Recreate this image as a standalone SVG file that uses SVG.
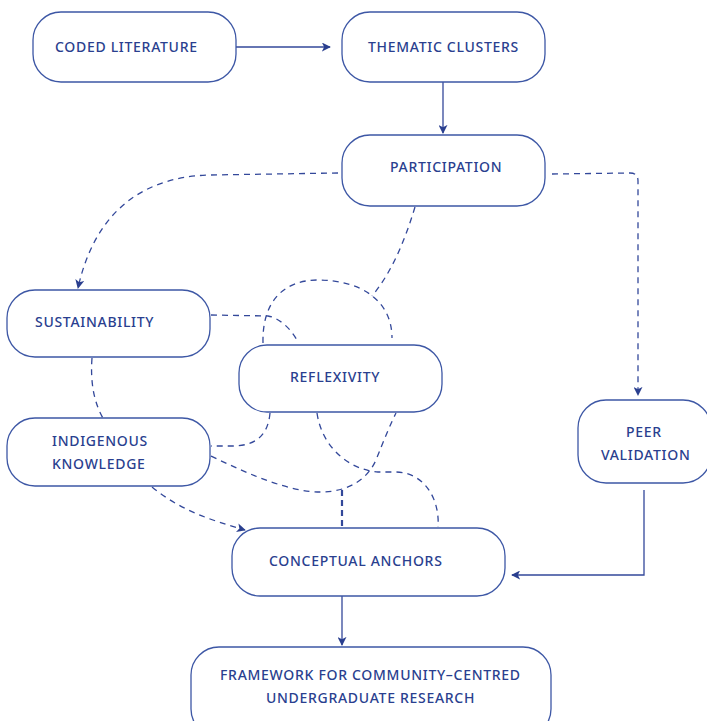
<svg xmlns="http://www.w3.org/2000/svg" width="707" height="721" viewBox="0 0 707 721">
<defs>
<style>
.n rect{fill:#fff;stroke:#3d57a5;stroke-width:1.3}
.n text{font-family:"Noto Sans","Open Sans",sans-serif;font-size:14px;font-weight:500;fill:#2a3f8f;letter-spacing:0.7px}
.e path{fill:none;stroke:#33489a;stroke-width:1.3}
.e .d{stroke-dasharray:6 5}
</style>
<marker id="a" viewBox="0 0 10 10" refX="9" refY="5" markerWidth="9" markerHeight="9" orient="auto" markerUnits="userSpaceOnUse">
<path d="M0,0 L10,5 L0,10 L2.5,5 z" fill="#2a3f8f"/>
</marker>
</defs>
<rect width="707" height="721" fill="#fff"/>
<g class="e">
<path d="M236,47 L330,47" marker-end="url(#a)"/>
<path d="M443,82 L443,133" marker-end="url(#a)"/>
<path class="d" d="M338,173 L210,175 C130,177 92,225 78,288" marker-end="url(#a)"/>
<path class="d" d="M552,174 L630,173 Q638,173 638,181 L638,395" marker-end="url(#a)"/>
<path d="M644,490 L644,575 L512,575" marker-end="url(#a)"/>
<path d="M342,596 L342,645" marker-end="url(#a)"/>
<path class="d" d="M152,487 C180,510 210,520 245,530" marker-end="url(#a)"/>
<path class="d" d="M415,207 C405,240 392,272 372,296"/>
<path class="d" d="M263,343 C262,300 285,280 318,280 C360,280 392,300 392,338"/>
<path class="d" d="M211,315 L268,316 C280,318 292,330 298,342"/>
<path class="d" d="M92,358 C90,385 95,405 104,420"/>
<path class="d" d="M270,413 C268,436 255,446 232,446 L211,446"/>
<path class="d" d="M211,456 C250,475 290,492 320,492 C350,492 368,478 376,460 C384,440 390,425 396,413"/>
<path class="d" d="M317,413 C322,448 350,470 378,472 L395,472 C425,472 440,500 438,527"/>
<path d="M342,490 L342,526" style="stroke-width:2.2;stroke-dasharray:6 4"/>
</g>
<g class="n" id="coded"><rect x="33" y="12" width="203" height="70" rx="28"/><text x="55" y="52">CODED LITERATURE</text></g>
<g class="n" id="thematic"><rect x="342" y="12" width="203" height="70" rx="28"/><text x="368" y="52">THEMATIC CLUSTERS</text></g>
<g class="n" id="participation"><rect x="342" y="135" width="203" height="71" rx="28"/><text x="390" y="172">PARTICIPATION</text></g>
<g class="n" id="sustainability"><rect x="7" y="290" width="203" height="67" rx="28"/><text x="35" y="327">SUSTAINABILITY</text></g>
<g class="n" id="reflexivity"><rect x="239" y="345" width="203" height="67" rx="28"/><text x="290" y="382">REFLEXIVITY</text></g>
<g class="n" id="indigenous"><rect x="7" y="418" width="203" height="68" rx="28"/><text x="52" y="446">INDIGENOUS</text><text x="52" y="469">KNOWLEDGE</text></g>
<g class="n" id="peer"><rect x="578" y="400" width="133" height="83" rx="28"/><text x="626" y="437">PEER</text><text x="601" y="460">VALIDATION</text></g>
<g class="n" id="anchors"><rect x="232" y="528" width="273" height="68" rx="28"/><text x="269" y="566">CONCEPTUAL ANCHORS</text></g>
<g class="n" id="framework"><rect x="191" y="647" width="360" height="90" rx="28"/><text x="220" y="680">FRAMEWORK FOR COMMUNITY–CENTRED</text><text x="266" y="703">UNDERGRADUATE RESEARCH</text></g>
</svg>
